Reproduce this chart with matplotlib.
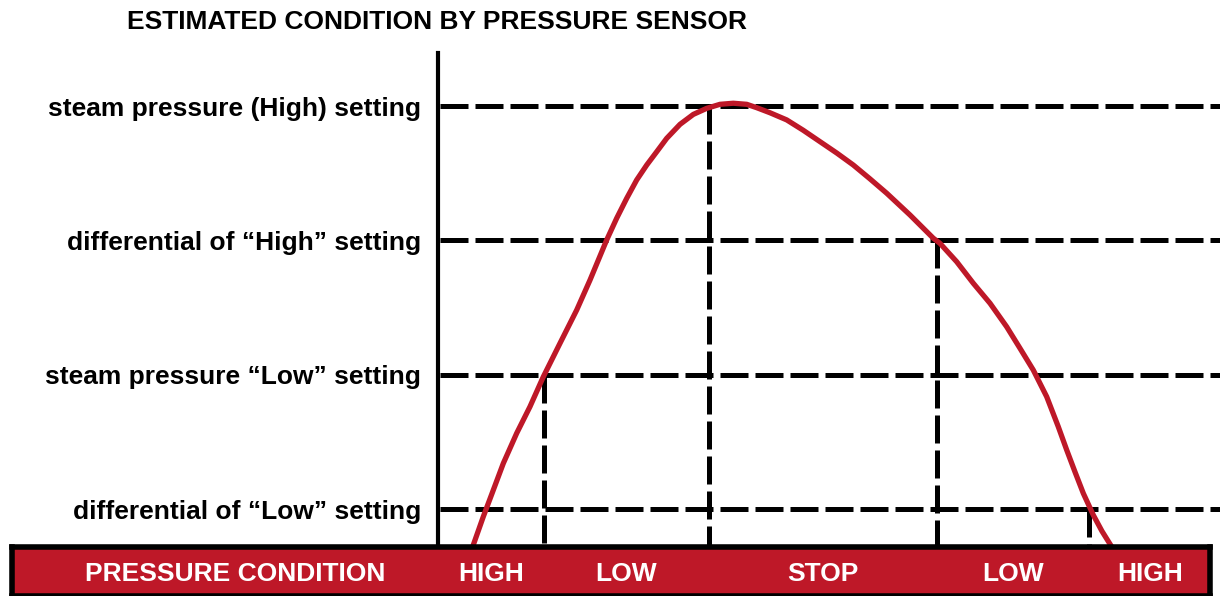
import matplotlib
matplotlib.use("Agg")
import matplotlib.pyplot as plt
import matplotlib.transforms as mtransforms

# curve of the sensed pressure (x: arbitrary time units, y: setting levels)
curve_x = [4.42, 4.51, 5.79, 7.07, 8.35, 10.06, 11.76, 13.47, 15.6, 17.74, 19.44,
           21.57, 22.85, 24.13, 25.41, 26.69, 27.97, 29.25, 30.95, 32.65, 34.36,
           36.06, 37.76, 39.48, 40.75, 42.46, 44.59, 46.7, 48.85, 51.0, 53.11,
           55.2, 57.38, 60.36, 63.34, 64.19, 66.33, 68.45, 70.59, 72.72, 74.42,
           76.12, 77.84, 79.32, 80.40, 81.46, 82.52, 83.80, 84.9, 86.15, 86.25]
curve_y = [0.71, 0.732, 0.943, 1.141, 1.340, 1.564, 1.762, 1.985, 2.234, 2.482, 2.705,
           3.003, 3.165, 3.313, 3.450, 3.561, 3.660, 3.760, 3.864, 3.938, 3.983,
           4.013, 4.021, 4.013, 3.988, 3.95, 3.897, 3.82, 3.735, 3.65, 3.561,
           3.46, 3.351, 3.189, 3.016, 2.978, 2.841, 2.681, 2.532, 2.357, 2.197,
           2.035, 1.836, 1.613, 1.439, 1.276, 1.117, 0.955, 0.836, 0.719, 0.71]

levels = [1, 2, 3, 4]
level_labels = ["differential of \u201cLow\u201d setting",
                "steam pressure \u201cLow\u201d setting",
                "differential of \u201cHigh\u201d setting",
                "steam pressure (High) setting"]

# where the curve crosses a setting and the state changes
switch_x = [13.6, 34.6, 63.8, 83.2]
switch_level = [2, 4, 3, 1]

states = ["HIGH", "LOW", "STOP", "LOW", "HIGH"]

RED = "#BE1828"
W, H = 1220, 596
DASH = (5.6, 1.4)

fig = plt.figure(figsize=(W / 100, H / 100), dpi=100)
ax = fig.add_axes([438 / W, 48 / H, 1 - 438 / W, (548 - 53) / H])
ax.set_xlim(0, 100)
ax.set_ylim(0.71, 4.395)

for lv in levels:
    ax.axhline(lv, xmin=0.003, color="black", lw=3.6, dashes=DASH)
for sx, lv in zip(switch_x, switch_level):
    ax.plot([sx, sx], [lv, 0.71], color="black", lw=3.6, dashes=DASH)

ax.plot(curve_x, curve_y, color=RED, lw=3.8, solid_capstyle="butt",
        solid_joinstyle="round", clip_on=False)

for s in ["top", "right", "bottom"]:
    ax.spines[s].set_visible(False)
ax.spines["left"].set_linewidth(3)
ax.set_xticks([])
ax.set_yticks(levels)
ax.set_yticklabels(level_labels, fontfamily="Liberation Sans", fontweight="bold", fontsize=19)
ax.tick_params(axis="y", length=0, pad=12)

fig.text(127 / W, 1 - 22 / H, "ESTIMATED CONDITION BY PRESSURE SENSOR",
         fontfamily="Liberation Sans", fontweight="bold", fontsize=19, va="center", ha="left")

# condition bar at the bottom
bar = fig.add_axes([12 / W, 0, 1198 / W, 49 / H])
bar.set_facecolor(RED)
bar.set_xticks([])
bar.set_yticks([])
for s in bar.spines.values():
    s.set_linewidth(4)
    s.set_color("black")

trans = mtransforms.blended_transform_factory(ax.transData, bar.transAxes)
edges = [0] + switch_x + [99.0]
for i, st in enumerate(states):
    cx = (edges[i] + edges[i + 1]) / 2
    bar.text(cx, 0.45, st, transform=trans, ha="center", va="center", color="white",
             fontfamily="Liberation Sans", fontweight="bold", fontsize=19)
bar.text((235 - 12) / 1198, 0.45, "PRESSURE CONDITION", transform=bar.transAxes,
         ha="center", va="center", color="white",
         fontfamily="Liberation Sans", fontweight="bold", fontsize=19)

fig.savefig("out.png", dpi=100)
